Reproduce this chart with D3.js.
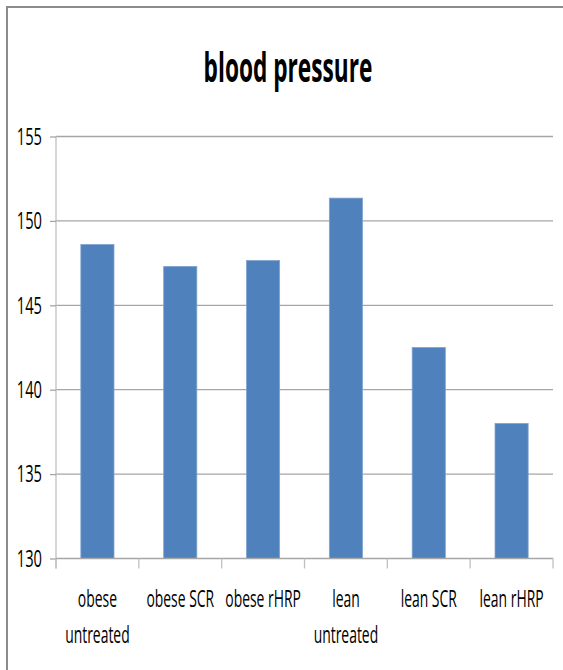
<!DOCTYPE html>
<html><head><meta charset="utf-8">
<script src="https://cdn.jsdelivr.net/npm/d3@7"></script>
<style>
html,body{margin:0;padding:0;background:#fff;}
svg{display:block;}
text{font-family:"Open Sans",sans-serif;}
</style></head>
<body>
<svg id="chart" width="563" height="670"></svg>
<script>
const categories = ["obese untreated","obese SCR","obese rHRP","lean untreated","lean SCR","lean rHRP"];
const values = [148.6, 147.3, 147.65, 151.35, 142.5, 138.0];
const yTicks = [130,135,140,145,150,155];
const title = "blood pressure";

const svg = d3.select("#chart");
const W = 563, H = 670;
const m = {left:56, right:10, top:136.5, bottom:111.5};

// chart frame
svg.append("rect").attr("x",7).attr("y",7).attr("width",W+20).attr("height",H+20)
  .attr("fill","#fff").attr("stroke","#8c8c8c").attr("stroke-width",2);

const x = d3.scaleBand().domain(categories).range([m.left, W - m.right]).paddingInner(0.6).paddingOuter(0.3);
const y = d3.scaleLinear().domain([130,155]).range([H - m.bottom, m.top]);

// gridlines
svg.append("g").selectAll("line").data(yTicks.filter(d=>d>130)).join("line")
  .attr("x1",m.left).attr("x2",W-m.right)
  .attr("y1",d=>y(d)).attr("y2",d=>y(d))
  .attr("stroke","#a6a6a6").attr("stroke-width",1.3);

// bars
svg.append("g").selectAll("rect").data(values).join("rect")
  .attr("x",(d,i)=>x(categories[i]))
  .attr("width",x.bandwidth())
  .attr("y",d=>y(d))
  .attr("height",d=>y(130)-y(d))
  .attr("fill","#4F81BD")
  .attr("stroke","#7fa2d0").attr("stroke-width",0.8);

// y axis
const yAxis = d3.axisLeft(y).tickValues(yTicks).tickSize(6).tickFormat(()=>"");
const ya = svg.append("g").attr("transform",`translate(${m.left},0)`).call(yAxis);
ya.select(".domain").attr("stroke","#c0c0c0").attr("stroke-width",1.3)
  .attr("d",`M0,${m.top}V${H-m.bottom+10}`);
ya.selectAll(".tick line").attr("stroke","#a6a6a6").attr("stroke-width",1.3);
svg.append("g").selectAll("text").data(yTicks).join("text")
  .attr("transform",d=>`translate(${m.left-14},${y(d)}) scale(0.64,1)`)
  .attr("text-anchor","end").attr("dy","0.36em")
  .attr("font-size",23).attr("fill","#000")
  .text(d=>d);

// x axis
const xa = svg.append("g").attr("transform",`translate(0,${y(130)})`);
xa.append("line").attr("x1",m.left).attr("x2",W-m.right).attr("y1",0).attr("y2",0)
  .attr("stroke","#a6a6a6").attr("stroke-width",1.3);
const bounds = d3.range(categories.length+1).map(i=>m.left + i*(W-m.right-m.left)/categories.length);
xa.selectAll("line.tk").data(bounds).join("line").attr("class","tk")
  .attr("x1",d=>d).attr("x2",d=>d).attr("y1",0).attr("y2",10)
  .attr("stroke","#c0c0c0").attr("stroke-width",1.3);

const labelLines = {
  "obese untreated":["obese","untreated"],
  "obese SCR":["obese SCR"],
  "obese rHRP":["obese rHRP"],
  "lean untreated":["lean","untreated"],
  "lean SCR":["lean SCR"],
  "lean rHRP":["lean rHRP"]
};
categories.forEach(c=>{
  const cx = x(c) + x.bandwidth()/2;
  labelLines[c].forEach((ln,j)=>{
    xa.append("text")
      .attr("transform",`translate(${cx},${48 + j*36}) scale(0.58,1)`)
      .attr("text-anchor","middle").attr("font-size",24).attr("fill","#000")
      .text(ln);
  });
});

// title
svg.append("text").attr("transform","translate(288,82) scale(0.54,1)")
  .attr("text-anchor","middle")
  .attr("font-size",42).attr("font-weight","bold").attr("fill","#000")
  .text(title);
</script>
</body></html>
